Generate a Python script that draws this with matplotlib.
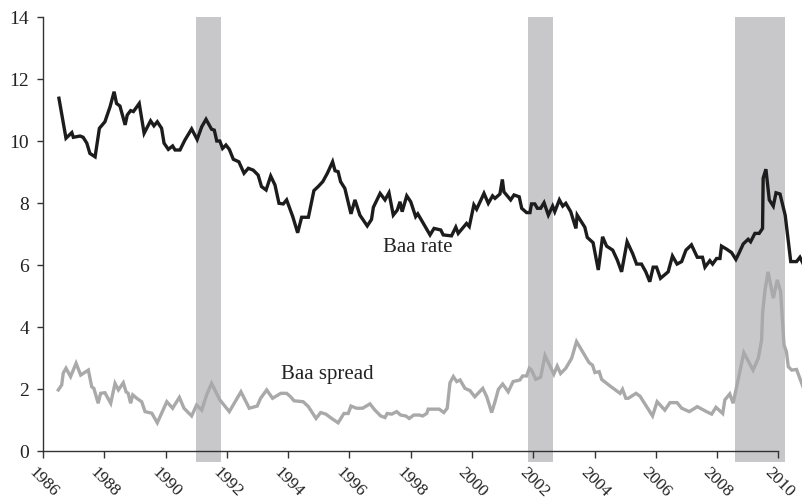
import matplotlib
matplotlib.use("Agg")
import matplotlib.pyplot as plt
import matplotlib.transforms as mtransforms

plt.rcParams['font.family'] = ['Liberation Serif', 'DejaVu Serif']

# Baa corporate bond rate (percent)
baa_year = [1986.52, 1986.75, 1986.94, 1986.99, 1987.21, 1987.31, 1987.43, 1987.53, 1987.70, 1987.84,
            1988.02, 1988.19, 1988.32, 1988.40, 1988.51, 1988.68, 1988.75, 1988.86, 1988.95, 1989.14,
            1989.30, 1989.51, 1989.62, 1989.73, 1989.87, 1989.95, 1990.09, 1990.23, 1990.31, 1990.47,
            1990.63, 1990.85, 1991.03, 1991.18, 1991.32, 1991.50, 1991.59, 1991.67, 1991.77, 1991.86,
            1991.97, 1992.08, 1992.21, 1992.39, 1992.56, 1992.70, 1992.86, 1993.02, 1993.13, 1993.28,
            1993.43, 1993.57, 1993.70, 1993.84, 1993.95, 1994.15, 1994.31, 1994.44, 1994.66, 1994.84,
            1994.98, 1995.13, 1995.28, 1995.45, 1995.53, 1995.63, 1995.71, 1995.85, 1996.05, 1996.18,
            1996.34, 1996.58, 1996.72, 1996.78, 1997.00, 1997.16, 1997.29, 1997.43, 1997.56, 1997.65,
            1997.72, 1997.87, 1998.00, 1998.16, 1998.23, 1998.63, 1998.76, 1998.98, 1999.06, 1999.33,
            1999.47, 1999.55, 1999.82, 1999.91, 2000.06, 2000.15, 2000.39, 2000.53, 2000.67, 2000.75,
            2000.91, 2000.99, 2001.04, 2001.26, 2001.37, 2001.54, 2001.62, 2001.78, 2001.89, 2001.94,
            2002.05, 2002.13, 2002.24, 2002.35, 2002.49, 2002.63, 2002.70, 2002.85, 2002.96, 2003.06,
            2003.22, 2003.39, 2003.43, 2003.68, 2003.76, 2003.95, 2004.12, 2004.26, 2004.39, 2004.59,
            2004.74, 2004.88, 2005.06, 2005.24, 2005.37, 2005.53, 2005.67, 2005.80, 2005.91, 2006.02,
            2006.15, 2006.40, 2006.54, 2006.69, 2006.84, 2006.98, 2007.16, 2007.35, 2007.52, 2007.60,
            2007.76, 2007.85, 2007.98, 2008.09, 2008.14, 2008.31, 2008.47, 2008.61, 2008.72, 2008.85,
            2009.01, 2009.09, 2009.23, 2009.37, 2009.48, 2009.50, 2009.59, 2009.70, 2009.83, 2009.92,
            2010.05, 2010.22, 2010.40, 2010.59, 2010.70, 2010.80]
baa_rate = [11.38, 10.09, 10.27, 10.12, 10.16, 10.12, 9.93, 9.60, 9.49, 10.41,
            10.62, 11.11, 11.59, 11.21, 11.13, 10.52, 10.84, 10.98, 10.95, 11.21,
            10.25, 10.65, 10.49, 10.62, 10.41, 9.93, 9.73, 9.84, 9.71, 9.71,
            10.03, 10.39, 10.05, 10.46, 10.70, 10.38, 10.35, 10.00, 10.00, 9.76,
            9.87, 9.73, 9.41, 9.33, 8.96, 9.12, 9.06, 8.90, 8.53, 8.42,
            8.87, 8.58, 7.99, 7.97, 8.10, 7.56, 7.04, 7.54, 7.54, 8.40,
            8.53, 8.69, 8.96, 9.33, 9.04, 9.01, 8.69, 8.47, 7.65, 8.10,
            7.61, 7.26, 7.47, 7.86, 8.31, 8.10, 8.33, 7.61, 7.77, 8.04,
            7.72, 8.23, 8.04, 7.56, 7.65, 6.97, 7.18, 7.13, 6.97, 6.94,
            7.22, 7.02, 7.34, 7.24, 7.94, 7.80, 8.31, 7.99, 8.23, 8.15,
            8.29, 8.76, 8.36, 8.10, 8.26, 8.20, 7.83, 7.69, 7.69, 7.97,
            7.97, 7.83, 7.83, 8.01, 7.61, 7.90, 7.72, 8.10, 7.90, 7.99,
            7.72, 7.18, 7.61, 7.22, 6.89, 6.72, 5.84, 6.91, 6.61, 6.48,
            6.16, 5.78, 6.75, 6.37, 6.03, 6.03, 5.78, 5.46, 5.93, 5.93,
            5.57, 5.78, 6.29, 6.03, 6.11, 6.48, 6.65, 6.25, 6.25, 5.93,
            6.14, 6.03, 6.21, 6.21, 6.61, 6.51, 6.40, 6.18, 6.40, 6.68,
            6.83, 6.75, 7.02, 7.02, 7.18, 8.80, 9.09, 8.10, 7.90, 8.33,
            8.29, 7.60, 6.11, 6.11, 6.25, 6.05]

# Baa spread over Treasury (percentage points)
spr_year = [1986.50, 1986.61, 1986.66, 1986.75, 1986.90, 1987.08, 1987.23, 1987.48, 1987.59, 1987.66,
            1987.80, 1987.88, 1988.02, 1988.21, 1988.35, 1988.46, 1988.62, 1988.71, 1988.78, 1988.86,
            1988.93, 1989.06, 1989.22, 1989.33, 1989.55, 1989.73, 1990.04, 1990.23, 1990.45, 1990.60,
            1990.85, 1991.01, 1991.18, 1991.34, 1991.50, 1991.77, 1992.08, 1992.46, 1992.73, 1992.99,
            1993.10, 1993.30, 1993.49, 1993.76, 1993.95, 1994.08, 1994.19, 1994.49, 1994.66, 1994.91,
            1995.06, 1995.23, 1995.42, 1995.63, 1995.82, 1995.96, 1996.05, 1996.23, 1996.43, 1996.67,
            1996.83, 1997.02, 1997.16, 1997.23, 1997.38, 1997.54, 1997.67, 1997.84, 1997.95, 1998.10,
            1998.28, 1998.39, 1998.52, 1998.57, 1998.93, 1999.08, 1999.19, 1999.28, 1999.39, 1999.50,
            1999.61, 1999.77, 1999.93, 2000.09, 2000.35, 2000.48, 2000.64, 2000.75, 2000.86, 2001.00,
            2001.18, 2001.34, 2001.56, 2001.65, 2001.78, 2001.87, 2001.94, 2002.08, 2002.24, 2002.38,
            2002.67, 2002.78, 2002.89, 2003.06, 2003.25, 2003.41, 2003.61, 2003.82, 2003.93, 2004.01,
            2004.15, 2004.23, 2004.50, 2004.83, 2004.91, 2005.02, 2005.10, 2005.35, 2005.48, 2005.89,
            2006.04, 2006.29, 2006.46, 2006.69, 2006.84, 2007.09, 2007.35, 2007.65, 2007.82, 2007.96,
            2008.18, 2008.25, 2008.41, 2008.52, 2008.87, 2009.17, 2009.34, 2009.45, 2009.48, 2009.56,
            2009.66, 2009.83, 2009.96, 2010.07, 2010.13, 2010.18, 2010.26, 2010.32, 2010.43, 2010.59,
            2010.70, 2010.80]
spr_val = [1.97, 2.13, 2.51, 2.67, 2.40, 2.83, 2.45, 2.61, 2.07, 2.02,
           1.54, 1.86, 1.88, 1.54, 2.18, 1.97, 2.20, 1.91, 1.86, 1.54,
           1.81, 1.70, 1.59, 1.27, 1.22, 0.91, 1.59, 1.38, 1.73, 1.38,
           1.13, 1.48, 1.32, 1.81, 2.18, 1.65, 1.27, 1.91, 1.38, 1.45,
           1.70, 1.97, 1.70, 1.86, 1.86, 1.75, 1.62, 1.59, 1.43, 1.05,
           1.24, 1.19, 1.05, 0.91, 1.21, 1.21, 1.45, 1.38, 1.38, 1.52,
           1.32, 1.13, 1.08, 1.21, 1.19, 1.27, 1.16, 1.13, 1.05, 1.16,
           1.16, 1.13, 1.21, 1.35, 1.35, 1.24, 1.38, 2.20, 2.40, 2.24,
           2.29, 2.02, 1.95, 1.75, 2.02, 1.75, 1.24, 1.59, 1.99, 2.16,
           1.91, 2.24, 2.29, 2.42, 2.42, 2.67, 2.61, 2.31, 2.38, 3.08,
           2.48, 2.74, 2.50, 2.67, 2.99, 3.53, 3.20, 2.85, 2.77, 2.53,
           2.56, 2.31, 2.10, 1.86, 1.99, 1.70, 1.70, 1.86, 1.77, 1.13,
           1.59, 1.32, 1.56, 1.56, 1.38, 1.27, 1.43, 1.27, 1.19, 1.41,
           1.21, 1.65, 1.84, 1.54, 3.17, 2.61, 2.99, 3.58, 4.44, 5.19,
           5.78, 4.93, 5.52, 5.14, 4.23, 3.42, 3.20, 2.72, 2.61, 2.63,
           2.34, 2.07]

# shaded periods
shade_start = [1991.00, 2001.83, 2008.58]
shade_end = [1991.80, 2002.63, 2010.20]

year_ticks = list(range(1986, 2011, 2))
rate_ticks = list(range(0, 15, 2))

fig = plt.figure(figsize=(8.03, 5.0), dpi=100)
ax = fig.add_axes([43 / 803, 49 / 500, 760 / 803, 434 / 500])

for s, e in zip(shade_start, shade_end):
    ax.fill_between([s, e], -0.37, 14, color='#c8c8ca', lw=0, zorder=1, clip_on=False)

ax.plot(spr_year, spr_val, color='#a9a9a9', lw=2.4, zorder=3, solid_joinstyle='miter')
ax.plot(baa_year, baa_rate, color='#1c1c1c', lw=2.4, zorder=4, solid_joinstyle='miter')

ax.text(1998.23, 6.55, 'Baa rate', fontsize=15, color='#222222', ha='center', va='center')
ax.text(1995.27, 2.48, 'Baa spread', fontsize=15, color='#222222', ha='center', va='center')

ax.set_xlim(1986, 2010.8)
ax.set_ylim(0, 14)
for side in ['top', 'right']:
    ax.spines[side].set_visible(False)
ax.spines['bottom'].set_bounds(1986, 2010)
for side in ['left', 'bottom']:
    ax.spines[side].set_color('#333333')
    ax.spines[side].set_linewidth(1.0)
    ax.spines[side].set_zorder(5)

ax.set_yticks(rate_ticks)
ax.set_xticks(year_ticks)
ax.set_xticklabels([str(y) for y in year_ticks], rotation=-45, ha='left', va='top',
                   rotation_mode='anchor')
ax.tick_params(axis='y', length=4, width=1, color='#333333', labelsize=14,
               labelcolor='#222222', pad=6)
ax.tick_params(axis='x', length=5, width=1, color='#333333', labelsize=12.5,
               labelcolor='#222222', pad=5)
offset = mtransforms.ScaledTranslation(-6 / 100, 0, fig.dpi_scale_trans)
for lab in ax.get_xticklabels():
    lab.set_transform(lab.get_transform() + offset)

fig.savefig('out.png', dpi=100)
